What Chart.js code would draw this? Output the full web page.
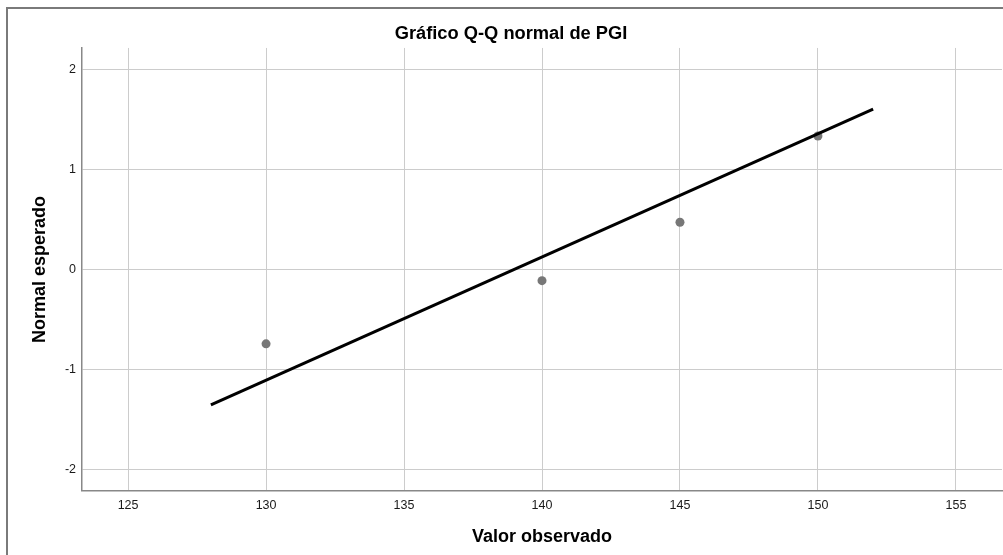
<!DOCTYPE html>
<html>
<head>
<meta charset="utf-8">
<script src="https://cdn.jsdelivr.net/npm/chart.js@4"></script>
<style>
    html, body { margin: 0; padding: 0; background: #fff; overflow: hidden; }
    #frame {
        position: absolute; left: 6px; top: 7px;
        width: 1100px; height: 700px;
        border: 2px solid #7a7a7a;
    }
    #wrap { position: absolute; left: 0; top: 0; width: 1021px; height: 555px; }
</style>
</head>
<body>
<div id="frame"></div>
<div id="wrap"><canvas id="chart" width="1021" height="555"></canvas></div>
<script>
// observed values vs expected normal
const observed = [130, 140, 145, 150];
const expected = [-0.745, -0.112, 0.473, 1.338];

// reference line ends
const lineX = [128, 152];
const lineY = [-1.358, 1.606];

const xTicks = [125, 130, 135, 140, 145, 150, 155];
const yTicks = [-2, -1, 0, 1, 2];

const font = "'Liberation Sans', Arial, sans-serif";

const ctx = document.getElementById('chart');

new Chart(ctx, {
    type: 'scatter',
    data: {
        datasets: [{
            label: 'Normal esperado',
            data: observed.map((v, i) => ({ x: v, y: expected[i] })),
            backgroundColor: '#777777',
            borderColor: '#777777',
            pointRadius: 4.5,
            pointBorderWidth: 0,
            order: 2
        }, {
            type: 'line',
            label: 'Linea',
            data: lineX.map((v, i) => ({ x: v, y: lineY[i] })),
            borderColor: '#000000',
            borderWidth: 3,
            pointRadius: 0,
            fill: false,
            order: 1
        }]
    },
    options: {
        responsive: false,
        animation: false,
        devicePixelRatio: 1,
        layout: { padding: { left: 20, right: 19, top: 0, bottom: 0 } },
        scales: {
            x: {
                type: 'linear',
                min: 123.33,
                max: 156.67,
                afterBuildTicks: function (scale) {
                    scale.ticks = xTicks.map(v => ({ value: v }));
                },
                afterFit: function (scale) {
                    scale.height = 64;
                },
                grid: { color: '#cccccc', lineWidth: 1, drawTicks: false },
                border: { display: true, color: '#888888', width: 1.5 },
                ticks: {
                    padding: 7,
                    color: '#1a1a1a',
                    font: { family: font, size: 12.5 }
                },
                title: {
                    display: true,
                    text: 'Valor observado',
                    color: '#000',
                    font: { family: font, size: 18, weight: 'bold' },
                    padding: { top: 0, bottom: 7 }
                }
            },
            y: {
                min: -2.22,
                max: 2.22,
                afterBuildTicks: function (scale) {
                    scale.ticks = yTicks.map(v => ({ value: v }));
                },
                afterFit: function (scale) {
                    scale.width = 62;
                },
                grid: { color: '#cccccc', lineWidth: 1, drawTicks: false },
                border: { display: true, color: '#888888', width: 1.5 },
                ticks: {
                    padding: 6,
                    color: '#1a1a1a',
                    font: { family: font, size: 12.5 }
                },
                title: {
                    display: true,
                    text: 'Normal esperado',
                    color: '#000',
                    font: { family: font, size: 18, weight: 'bold' },
                    padding: { top: 9, bottom: 0 }
                }
            }
        },
        plugins: {
            title: {
                display: true,
                text: 'Gráfico Q-Q normal de PGI',
                color: '#000',
                font: { family: font, size: 18.3, weight: 'bold' },
                padding: { top: 23, bottom: 3 }
            },
            legend: { display: false },
            tooltip: { enabled: false }
        }
    }
});
</script>
</body>
</html>
